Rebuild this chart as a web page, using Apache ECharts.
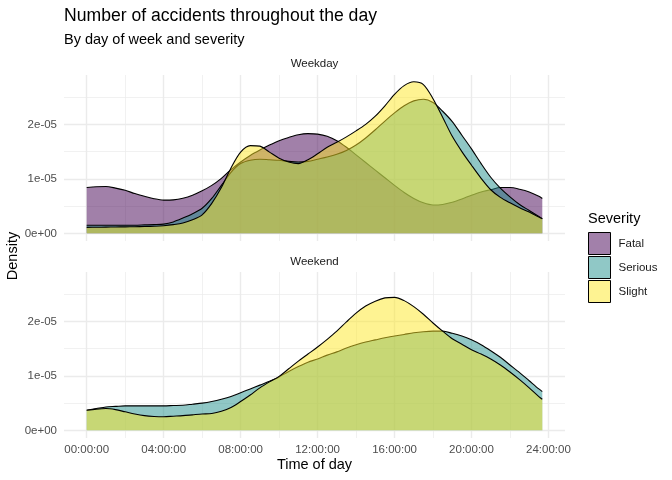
<!DOCTYPE html>
<html><head><meta charset="utf-8">
<script src="https://cdn.jsdelivr.net/npm/echarts@6/dist/echarts.min.js"></script>
<style>html,body{margin:0;padding:0;background:#fff}#c{width:672px;height:480px}</style>
</head><body><div id="c"></div>
<script>
// Time of day in hours
const hours = [0,0.5,1,1.5,2,2.5,3,3.5,4,4.5,5,5.5,6,6.5,7,7.5,8,8.5,9,9.5,10,10.5,11,11.5,
  12,12.5,13,13.5,14,14.5,15,15.5,16,16.5,17,17.5,18,18.5,19,19.5,20,20.5,21,21.5,22,22.5,23,23.5,23.68];
// Densities in units of 1e-5
const weekdayFatal   = [0.84,0.855,0.86,0.83,0.79,0.73,0.68,0.635,0.61,0.615,0.645,0.70,0.78,0.88,1.01,1.17,1.31,1.43,1.53,1.62,1.70,1.76,1.81,1.83,
  1.82,1.78,1.70,1.58,1.44,1.30,1.16,1.02,0.88,0.75,0.64,0.56,0.52,0.53,0.57,0.63,0.70,0.76,0.80,0.84,0.84,0.81,0.76,0.68,0.64];
const weekdaySerious = [0.15,0.15,0.15,0.15,0.15,0.15,0.155,0.16,0.17,0.21,0.28,0.36,0.46,0.64,0.88,1.12,1.28,1.34,1.36,1.35,1.34,1.32,1.31,1.32,
  1.36,1.40,1.45,1.52,1.62,1.75,1.90,2.06,2.21,2.34,2.43,2.46,2.40,2.24,2.05,1.80,1.55,1.28,1.03,0.83,0.67,0.53,0.42,0.31,0.27];
const weekdaySlight  = [0.11,0.112,0.115,0.117,0.12,0.122,0.125,0.13,0.14,0.16,0.19,0.25,0.34,0.55,0.84,1.20,1.49,1.61,1.60,1.49,1.38,1.31,1.28,1.35,
  1.46,1.58,1.67,1.77,1.88,2.00,2.15,2.34,2.55,2.71,2.78,2.73,2.47,2.13,1.78,1.50,1.25,1.01,0.80,0.66,0.56,0.47,0.39,0.30,0.27];
const weekendSerious = [0.37,0.40,0.43,0.44,0.45,0.45,0.45,0.45,0.45,0.455,0.46,0.48,0.50,0.53,0.57,0.62,0.69,0.76,0.83,0.90,0.98,1.08,1.17,1.25,
  1.31,1.38,1.44,1.51,1.57,1.62,1.66,1.70,1.73,1.76,1.79,1.81,1.82,1.82,1.78,1.73,1.66,1.57,1.46,1.34,1.20,1.06,0.91,0.76,0.71];
const weekendSlight  = [0.37,0.39,0.40,0.38,0.34,0.30,0.27,0.255,0.25,0.26,0.27,0.285,0.30,0.31,0.35,0.42,0.53,0.65,0.78,0.89,0.99,1.13,1.27,1.40,
  1.53,1.67,1.82,1.99,2.15,2.28,2.37,2.43,2.44,2.38,2.27,2.13,1.97,1.82,1.68,1.58,1.48,1.40,1.31,1.20,1.07,0.93,0.78,0.62,0.57];
const densityUnit = 1e-5;

const severities = ['Fatal','Serious','Slight'];
const fills = {Fatal:'#440154', Serious:'#21908C', Slight:'#FDE725'};
const facets = ['Weekday','Weekend'];
const panelData = [
  {Fatal: weekdayFatal, Serious: weekdaySerious, Slight: weekdaySlight},
  {Serious: weekendSerious, Slight: weekendSlight}
];
const xTicks = [0,4,8,12,16,20,24];
const xMinor = [2,6,10,14,18,22];
const yTicks = [0,1e-5,2e-5];
const yMinor = [0.5e-5,1.5e-5,2.5e-5];
const xMin = -1.18, xMax = 24.86;
const yMin = -0.14e-5, yMax = 2.905e-5;

const FONT = "'Liberation Sans', Arial, sans-serif";
const gridColor = '#EBEBEB';

function fmtTime(v){ const h = Math.round(v); return String(h).padStart(2,'0') + ':00:00'; }
function fmtExp(v){
  if (Math.abs(v) < 1e-12) return '0e+00';
  const e = Math.floor(Math.log10(Math.abs(v)) + 1e-9);
  const m = Math.round(v / Math.pow(10, e));
  return m + 'e' + (e < 0 ? '-' : '+') + String(Math.abs(e)).padStart(2,'0');
}
function blend(hex, a){
  const n = parseInt(hex.slice(1),16);
  const r=(n>>16)&255, g=(n>>8)&255, b=n&255;
  const f = c => Math.round(c*a + 255*(1-a));
  return 'rgb(' + f(r) + ',' + f(g) + ',' + f(b) + ')';
}
function rgba(hex, a){
  const n = parseInt(hex.slice(1),16);
  return 'rgba(' + ((n>>16)&255) + ',' + ((n>>8)&255) + ',' + (n&255) + ',' + a + ')';
}

const grids = [
  {left:64, width:501, top:75, height:166},
  {left:64, width:501, top:272, height:166}
];
const xAxes = [], yAxes = [], series = [];
grids.forEach((g, gi) => {
  xAxes.push({gridIndex:gi, type:'value', min:xMin, max:xMax,
    axisLine:{show:false}, axisTick:{show:false, customValues:xTicks},
    axisLabel:{show:gi===1, customValues:xTicks, formatter:fmtTime, margin:6, color:'#4D4D4D', fontSize:11.5, fontFamily:FONT},
    splitLine:{show:true, lineStyle:{color:gridColor, width:1.4}}});
  xAxes.push({gridIndex:gi, type:'value', min:xMin, max:xMax,
    axisLine:{show:false}, axisTick:{show:false, customValues:xMinor},
    axisLabel:{show:false, customValues:xMinor},
    splitLine:{show:true, lineStyle:{color:gridColor, width:0.7}}});
  yAxes.push({gridIndex:gi, type:'value', min:yMin, max:yMax,
    axisLine:{show:false}, axisTick:{show:false, customValues:yTicks},
    axisLabel:{show:true, customValues:yTicks, formatter:fmtExp, margin:7, color:'#4D4D4D', fontSize:11.5, fontFamily:FONT},
    splitLine:{show:true, lineStyle:{color:gridColor, width:1.4}}});
  yAxes.push({gridIndex:gi, type:'value', min:yMin, max:yMax,
    axisLine:{show:false}, axisTick:{show:false, customValues:yMinor},
    axisLabel:{show:false, customValues:yMinor},
    splitLine:{show:true, lineStyle:{color:gridColor, width:0.7}}});
  let k = 0;
  severities.forEach(sev => {
    const vals = panelData[gi][sev];
    if (!vals) return;
    series.push({
      name: sev, type:'line', xAxisIndex: gi*2, yAxisIndex: gi*2,
      data: hours.map((h,i) => [h, vals[i]*densityUnit]),
      smooth: 0.3, showSymbol:false, symbol:'none', z: 3 + k,
      itemStyle:{color: blend(fills[sev],0.5)},
      lineStyle:{color:'#000', width:1.1},
      areaStyle:{color: rgba(fills[sev],0.5), opacity:1},
      emphasis:{disabled:true}, animation:false
    });
    k++;
  });
});

const T = (text, left, top, size, extra) => Object.assign({text, left, top, padding:0,
  textStyle:{fontSize:size, fontWeight:'normal', color:'#000', fontFamily:FONT}}, extra || {});

const chart = echarts.init(document.getElementById('c'), null, {renderer:'canvas'});
chart.setOption({
  backgroundColor:'#fff',
  animation:false,
  textStyle:{fontFamily:FONT},
  title:[
    T('Number of accidents throughout the day', 64, 7, 17.6),
    T('By day of week and severity', 64, 32, 14.5),
    T(facets[0], 314.5, 58, 11.5, {textAlign:'center', textStyle:{fontSize:11.5, fontWeight:'normal', color:'#1A1A1A', fontFamily:FONT}}),
    T(facets[1], 314.5, 255.5, 11.5, {textAlign:'center', textStyle:{fontSize:11.5, fontWeight:'normal', color:'#1A1A1A', fontFamily:FONT}}),
    T('Time of day', 314.5, 457, 14.5, {textAlign:'center'}),
    T('Severity', 588, 211, 14.5)
  ],
  graphic:[
    {type:'text', x:13, y:256, rotation:Math.PI/2, style:{text:'Density', fill:'#000', font:'14.5px ' + FONT, textAlign:'center', textVerticalAlign:'middle'}}
  ],
  legend:{
    orient:'vertical', left:588, top:232, itemWidth:22, itemHeight:22, itemGap:1, padding:0,
    icon:'rect', selectedMode:false,
    textStyle:{fontSize:11.5, color:'#1A1A1A', fontFamily:FONT, padding:[0,0,0,3]},
    data: severities.map(s => ({name:s, icon:'rect', itemStyle:{color:blend(fills[s],0.5), borderColor:'#000', borderWidth:1, opacity:1}}))
  },
  grid: grids,
  xAxis: xAxes,
  yAxis: yAxes,
  series: series
});
</script>
</body></html>
